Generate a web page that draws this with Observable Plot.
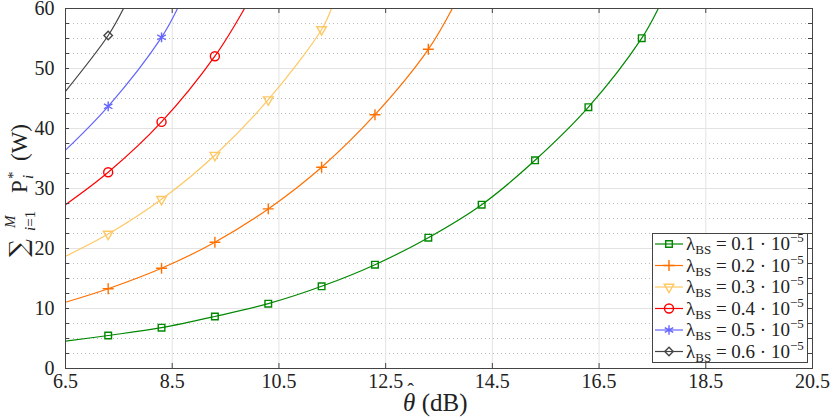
<!DOCTYPE html>
<html><head><meta charset="utf-8">
<script src="https://cdn.jsdelivr.net/npm/d3@7"></script>
<script src="https://cdn.jsdelivr.net/npm/@observablehq/plot@0.6"></script>
<style>
body{margin:0;background:#fff;}
#chart{position:relative;width:830px;height:418px;}
svg text{white-space:pre;}
</style></head><body><div id="chart"></div>
<script>
// ---- data ----
const lambdaLabels = ["0.1", "0.2", "0.3", "0.4", "0.5", "0.6"];
const seriesColors = ["#008800", "#ff7000", "#ffc864", "#ff0000", "#6464ff", "#444444"];
const theta01 = [6.5, 7.3, 8.3, 9.3, 10.3, 11.3, 12.3, 13.3, 14.3, 15.3, 16.3, 17.3, 17.61];
const power01 = [4.55, 5.5, 6.8, 8.67, 10.8, 13.7, 17.3, 21.8, 27.3, 34.7, 43.55, 55.05, 60];
const theta02 = [6.5, 7.3, 8.3, 9.3, 10.3, 11.3, 12.3, 13.3, 13.75];
const power02 = [11.05, 13.3, 16.7, 21.05, 26.6, 33.55, 42.3, 53.2, 60];
const theta03 = [6.5, 7.3, 8.3, 9.3, 10.3, 11.3, 11.485];
const power03 = [18.7, 22.4, 28.2, 35.55, 44.8, 56.5, 60];
const theta04 = [6.5, 7.3, 8.3, 9.3, 9.855];
const power04 = [27.3, 32.7, 41.1, 52.05, 60];
const theta05 = [6.5, 7.3, 8.3, 8.6];
const power05 = [36.4, 43.7, 55.2, 60];
const theta06 = [6.5, 7.3, 7.587];
const power06 = [46.2, 55.5, 60];
const xTicks = [6.5, 8.5, 10.5, 12.5, 14.5, 16.5, 18.5, 20.5];
const yTicks = [0, 10, 20, 30, 40, 50, 60];
const yMinorTicks = [0, 2.5, 5, 7.5, 10, 12.5, 15, 17.5, 20, 22.5, 25, 27.5, 30, 32.5, 35, 37.5, 40, 42.5, 45, 47.5, 50, 52.5, 55, 57.5, 60];

const thetas = [theta01, theta02, theta03, theta04, theta05, theta06];
const powers = [power01, power02, power03, power04, power05, power06];
const symbols = [d3.symbolSquare2, d3.symbolPlus, d3.symbolTriangle2, d3.symbolCircle, d3.symbolAsterisk, d3.symbolDiamond2];
const radii = [4.2, 3.6, 4.6, 4.5, 4.6, 3.8];
const rotations = [0, 0, 180, 0, 0, 0];

const series = thetas.map((th, i) => th.map((t, j) => ({theta: t, power: powers[i][j], marker: j > 0 && j < th.length - 1})));

// ---- layout ----
const W = 830, H = 418, mL = 65, mR = 18, mT = 8, mB = 50;
const plotW = W - mL - mR, plotH = H - mT - mB;
const axisColor = "#444";
const gridColor = "#e3e3e3";
const ff = "Times New Roman";

const lineMarks = series.map((rows, i) => Plot.line(rows, {x: "theta", y: "power", stroke: seriesColors[i], strokeWidth: 1.2, curve: "catmull-rom", clip: true}));
const dotMarks = series.map((rows, i) => Plot.dot(rows.filter(d => d.marker), {x: "theta", y: "power", symbol: symbols[i], r: radii[i], rotate: rotations[i], stroke: seriesColors[i], fill: "none", strokeWidth: 1.4}));

const chart = Plot.plot({
  width: W, height: H,
  marginLeft: mL, marginRight: mR, marginTop: mT, marginBottom: mB,
  style: {fontFamily: ff, fontSize: "20px", color: "#222", background: "white", overflow: "visible"},
  x: {domain: [6.5, 20.5]},
  y: {domain: [0, 60]},
  marks: [
    Plot.gridY(yMinorTicks.filter(v => v % 10 !== 0), {stroke: "#bbb", strokeOpacity: 1, strokeDasharray: "1,3"}),
    Plot.gridY(yTicks, {stroke: gridColor, strokeOpacity: 1}),
    Plot.gridX(xTicks, {stroke: gridColor, strokeOpacity: 1}),
    ...lineMarks,
    ...dotMarks,
    Plot.tickX(xTicks, {x: d => d, insetTop: plotH - 5, stroke: axisColor}),
    Plot.tickX(xTicks, {x: d => d, insetBottom: plotH - 5, stroke: axisColor}),
    Plot.tickY(yMinorTicks, {y: d => d, insetLeft: plotW - 4, stroke: axisColor}),
    Plot.tickY(yMinorTicks, {y: d => d, insetRight: plotW - 4, stroke: axisColor}),
    Plot.frame({stroke: axisColor}),
    Plot.axisX(xTicks, {tickSize: 0, tickPadding: 5, tickFormat: d => d.toFixed(1), fontSize: 20, fontFamily: ff, label: null}),
    Plot.axisY(yTicks, {tickSize: 0, tickPadding: 11, fontSize: 20, fontFamily: ff, label: null})
  ]
});
document.getElementById("chart").appendChild(chart);

const svg = d3.select(chart);

// ---- y label ----
const yl = svg.append("g").attr("transform", "translate(27,257) rotate(-90)").attr("fill", "#222").attr("font-family", ff).attr("text-anchor", "start");
yl.append("text").attr("x", 0).attr("y", 0).attr("font-size", 25).attr("font-family", "DejaVu Serif").text("∑");
const sub1 = yl.append("text").attr("x", 26).attr("y", 8).attr("font-size", 15);
sub1.append("tspan").attr("font-style", "italic").text("i");
sub1.append("tspan").text("=1");
yl.append("text").attr("x", 29).attr("y", -12).attr("font-size", 15).attr("font-style", "italic").text("M");
yl.append("text").attr("x", 64).attr("y", 0).attr("font-size", 23).text("P");
yl.append("text").attr("x", 78).attr("y", -9).attr("font-size", 15).text("*");
yl.append("text").attr("x", 78).attr("y", 6).attr("font-size", 15).attr("font-style", "italic").text("i");
yl.append("text").attr("x", 96).attr("y", 0).attr("font-size", 23).text("(W)");

// ---- x label ----
const xl = svg.append("g").attr("fill", "#222").attr("font-family", ff).attr("text-anchor", "start");
const xt = xl.append("text").attr("x", 403).attr("y", 411).attr("font-size", 25);
xt.append("tspan").attr("font-style", "italic").text("θ");
xt.append("tspan").attr("font-size", 20).attr("dx", -8).attr("dy", -13).text("ˆ");
xt.append("tspan").attr("dx", 1.5).attr("dy", 13).text(" (dB)");

// ---- legend ----
const lg = svg.append("g").attr("font-family", ff).attr("text-anchor", "start");
lg.append("rect").attr("x", 652.5).attr("y", 233.5).attr("width", 155).attr("height", 129).attr("fill", "white").attr("stroke", axisColor);
lambdaLabels.forEach((lab, i) => {
  const yy = 244 + 21.5 * i;
  lg.append("line").attr("x1", 655).attr("x2", 683).attr("y1", yy).attr("y2", yy).attr("stroke", seriesColors[i]).attr("stroke-width", 1.2);
  lg.append("path").attr("d", d3.symbol(symbols[i], Math.PI * radii[i] * radii[i])())
    .attr("transform", `translate(669,${yy}) rotate(${rotations[i]})`)
    .attr("fill", "none").attr("stroke", seriesColors[i]).attr("stroke-width", 1.4);
  const t = lg.append("text").attr("x", 686).attr("y", yy + 6).attr("font-size", 19).attr("fill", "#222");
  t.append("tspan").text("λ");
  t.append("tspan").attr("font-size", 13).attr("dy", 4).text("BS");
  t.append("tspan").attr("dy", -4).text(" = " + lab + " · 10");
  t.append("tspan").attr("font-size", 13).attr("dy", -8).text("−5");
});
</script>
</body></html>
